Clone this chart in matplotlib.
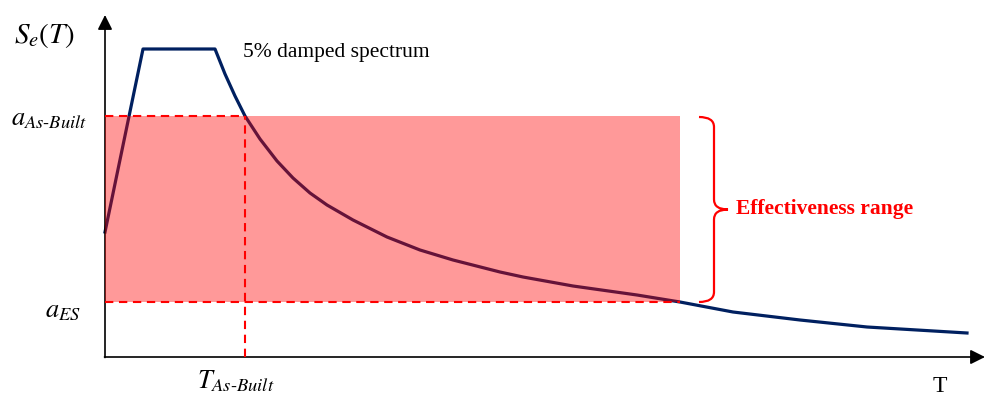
import matplotlib
matplotlib.use("Agg")
import matplotlib.pyplot as plt
from matplotlib.patches import Rectangle, PathPatch
from matplotlib.path import Path

plt.rcParams['mathtext.fontset'] = 'stix'
plt.rcParams['font.family'] = ['Liberation Serif', 'DejaVu Serif']

# elastic spectrum, 5% damping (period, spectral acceleration)
T = [0.00, 0.38, 1.10, 1.20, 1.30, 1.40, 1.55, 1.72, 1.88, 2.05, 2.22, 2.48,
     2.82, 3.15, 3.48, 3.95, 4.18, 4.68, 5.32, 5.75, 6.28, 6.95, 7.62, 8.62]
Se = [1.25, 3.08, 3.08, 2.83, 2.61, 2.41, 2.18, 1.96, 1.79, 1.64, 1.52, 1.37,
      1.20, 1.07, 0.97, 0.85, 0.80, 0.71, 0.62, 0.55, 0.45, 0.37, 0.30, 0.24]

a_asbuilt = 2.41
a_es = 0.55
T_asbuilt = 1.40
T_end = 5.75

navy = '#002060'
red = '#ff0000'

fig = plt.figure(figsize=(9.85, 3.99), dpi=100)
ax = fig.add_axes([0, 0, 1, 1])
ax.set_xlim(-1.05, 8.80)
ax.set_ylim(-0.42, 3.57)
ax.set_axis_off()

# axes with arrow heads
ax.annotate('', xy=(8.80, 0), xytext=(-0.005, 0),
            arrowprops=dict(arrowstyle='-|>', color='black', lw=1.2,
                            mutation_scale=22, shrinkA=0, shrinkB=0))
ax.annotate('', xy=(0, 3.42), xytext=(0, -0.005),
            arrowprops=dict(arrowstyle='-|>', color='black', lw=1.2,
                            mutation_scale=22, shrinkA=0, shrinkB=0))

ax.plot(T, Se, color=navy, lw=2.3, solid_joinstyle='round', zorder=2)

# effectiveness band
ax.add_patch(Rectangle((0, a_es), T_end, a_asbuilt - a_es, facecolor=red,
                       alpha=0.4, edgecolor='none', zorder=3))

dash = dict(color=red, lw=1.5, dashes=(4, 2.7), zorder=4)
ax.plot([0, T_asbuilt], [a_asbuilt, a_asbuilt], **dash)
ax.plot([0, T_end], [a_es, a_es], **dash)
ax.plot([T_asbuilt, T_asbuilt], [0, a_asbuilt], **dash)

# curly brace
bx, r, tip = 6.09, 0.10, 0.14
top, bot = a_asbuilt - 0.01, a_es
mid = (top + bot) / 2
verts = [(bx - 0.15, top), (bx, top), (bx, top - r),
         (bx, mid + r),
         (bx, mid), (bx + tip, mid), (bx, mid),
         (bx, mid - r),
         (bx, bot + r),
         (bx, bot), (bx - 0.15, bot)]
codes = [Path.MOVETO, Path.CURVE3, Path.CURVE3,
         Path.LINETO,
         Path.CURVE3, Path.CURVE3, Path.CURVE3,
         Path.CURVE3,
         Path.LINETO,
         Path.CURVE3, Path.CURVE3]
ax.add_patch(PathPatch(Path(verts, codes), facecolor='none', edgecolor=red,
                       lw=1.6, zorder=4))

ax.text(6.31, mid, 'Effectiveness range', color=red, fontsize=15.5,
        fontweight='bold', va='center', ha='left')
ax.text(1.38, 3.04, '5% damped spectrum', fontsize=15.5, va='center', ha='left')

ax.text(-0.60, 3.21, r'$S_e(T)$', fontsize=21, va='center', ha='center')
ax.text(-0.56, 2.37, r'$a_{As\text{-}Built}$', fontsize=19, va='center', ha='center')
ax.text(-0.42, 0.45, r'$a_{ES}$', fontsize=19, va='center', ha='center')
ax.text(1.31, -0.24, r'$T_{As\text{-}Built}$', fontsize=19, va='center', ha='center')
ax.text(8.35, -0.405, 'T', fontsize=17, va='bottom', ha='center')

fig.savefig('out.png', dpi=100)
